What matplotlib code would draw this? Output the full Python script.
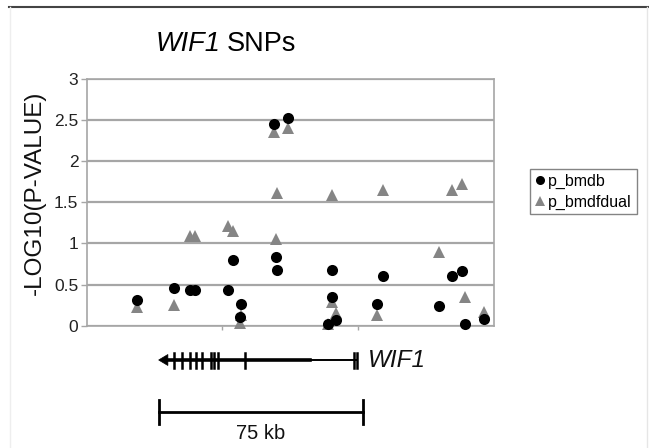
import matplotlib
matplotlib.use("Agg")
import matplotlib.pyplot as plt
from matplotlib.transforms import blended_transform_factory
from matplotlib.lines import Line2D
from matplotlib.patches import Polygon

plt.rcParams['font.family'] = ['Liberation Sans', 'DejaVu Sans']

# SNP positions (kb) and -log10(p) values
snp_kb = [18.7, 32.2, 38.1, 39.9, 52.0, 54.0, 56.9, 56.5, 69.1, 74.1, 70.1, 69.8,
          90.3, 90.3, 91.7, 88.7, 107.0, 109.3, 129.6, 134.5, 138.2, 139.4, 146.4]
p_bmdb = [0.31, 0.46, 0.435, 0.435, 0.435, 0.80, 0.265, 0.10, 2.45, 2.52, 0.675, 0.84,
          0.675, 0.35, 0.07, 0.02, 0.265, 0.60, 0.245, 0.60, 0.665, 0.02, 0.08]
p_bmdfdual = [0.23, 0.25, 1.09, 1.09, 1.21, 1.15, 0.13, 0.03, 2.35, 2.41, 1.61, 1.05,
              1.59, 0.29, 0.15, 0.02, 0.13, 1.655, 0.90, 1.655, 1.72, 0.35, 0.17]
series_names = ['p_bmdb', 'p_bmdfdual']
y_ticks = [0, 0.5, 1, 1.5, 2, 2.5, 3]
y_tick_labels = ['0', '0.5', '1', '1.5', '2', '2.5', '3']

# gene structure (kb)
gene_start, gene_thick_end, gene_end = 26.5, 82.3, 99.6
exons_kb = [32.2, 35.1, 38.1, 40.3, 42.5, 45.8, 46.9, 48.4, 58.3, 98.5, 99.6]
scale_start, scale_end = 26.8, 101.8
scale_label = '75 kb'
gene_label = 'WIF1'

W, H = 649, 448
fig = plt.figure(figsize=(W / 100, H / 100), dpi=100)
ax = fig.add_axes([86.7 / W, 1 - 325.7 / H, (494 - 86.7) / W, (325.7 - 79) / H])

grid_c = '#a6a6a6'
ax.set_xlim(0, 150)
ax.set_ylim(0, 3)
ax.set_yticks(y_ticks)
ax.set_yticklabels(y_tick_labels, fontsize=12.5, color='#222222')
ax.set_xticks([50, 100])
ax.set_xticklabels([])
ax.tick_params(axis='y', direction='out', length=4, width=1, color=grid_c, pad=2)
ax.tick_params(axis='x', direction='out', length=3, width=1, color=grid_c)
for s in ax.spines.values():
    s.set_color(grid_c)
    s.set_linewidth(1.2)
ax.yaxis.grid(True, color=grid_c, linewidth=1.6)
ax.set_axisbelow(True)

ax.plot(snp_kb, p_bmdfdual, linestyle='none', marker='^', markersize=9,
        color='#858585', markeredgewidth=0, label=series_names[1], clip_on=False, zorder=3)
ax.plot(snp_kb, p_bmdb, linestyle='none', marker='o', markersize=8,
        color='black', markeredgewidth=0, label=series_names[0], clip_on=False, zorder=4)

# title and y label
fig.text(221 / W, 1 - 44 / H, 'WIF1', fontsize=19.5, style='italic', ha='right', va='center')
fig.text(227 / W, 1 - 44 / H, 'SNPs', fontsize=19.5, ha='left', va='center')
fig.text(35 / W, 1 - 193 / H, '-LOG10(P-VALUE)', fontsize=17.5, rotation=90,
         ha='center', va='center', color='#111111')

# legend
handles = [Line2D([], [], linestyle='none', marker='o', markersize=6.5, color='black', markeredgewidth=0),
           Line2D([], [], linestyle='none', marker='^', markersize=7, color='#858585', markeredgewidth=0)]
leg = fig.legend(handles, series_names, loc='upper left',
                 bbox_to_anchor=(530 / W, 1 - 169 / H), fontsize=11.5,
                 frameon=True, fancybox=False, handlelength=0.6, handletextpad=0.25,
                 borderpad=0.3, labelspacing=0.35, borderaxespad=0)
leg.get_frame().set_edgecolor('#666666')
leg.get_frame().set_linewidth(1)

# gene diagram
tr = blended_transform_factory(ax.transData, fig.transFigure)
gy = 1 - 360 / H
fig.add_artist(Line2D([gene_start + 2.5, gene_thick_end], [gy, gy], transform=tr,
                      color='black', linewidth=2.6, clip_on=False))
fig.add_artist(Line2D([gene_thick_end, gene_end], [gy, gy], transform=tr,
                      color='black', linewidth=1.4, clip_on=False))
hh = 5.5 / H
fig.add_artist(Polygon([[gene_start, gy], [gene_start + 3.4, gy + hh], [gene_start + 3.4, gy - hh]],
                       closed=True, transform=tr, facecolor='black', edgecolor='black',
                       linewidth=0.5, clip_on=False))
for e in exons_kb:
    fig.add_artist(Line2D([e, e], [1 - 353 / H, 1 - 368 / H], transform=tr,
                          color='black', linewidth=1.8, clip_on=False))
fig.text(368 / W, gy, gene_label, fontsize=17.5, style='italic', ha='left', va='center',
         color='#111111')

# scale bar
sy = 1 - 412 / H
fig.add_artist(Line2D([scale_start, scale_end], [sy, sy], transform=tr,
                      color='black', linewidth=2, clip_on=False))
for x in (scale_start, scale_end):
    fig.add_artist(Line2D([x, x], [1 - 400 / H, 1 - 424 / H], transform=tr,
                          color='black', linewidth=2, clip_on=False))
fig.text(261 / W, 1 - 433 / H, scale_label, fontsize=14.5, ha='center', va='center',
         color='#111111')

# frame lines of the figure panel
fig.add_artist(Line2D([9 / W, 1], [1 - 7 / H, 1 - 7 / H], transform=fig.transFigure,
                      color='#444444', linewidth=1.5))
fig.add_artist(Line2D([10 / W, 10 / W], [0, 1 - 7 / H], transform=fig.transFigure,
                      color='#eeeeee', linewidth=1))
fig.add_artist(Line2D([647 / W, 647 / W], [0, 1 - 7 / H], transform=fig.transFigure,
                      color='#e6e6e6', linewidth=1))

fig.savefig('out.png', dpi=100)
